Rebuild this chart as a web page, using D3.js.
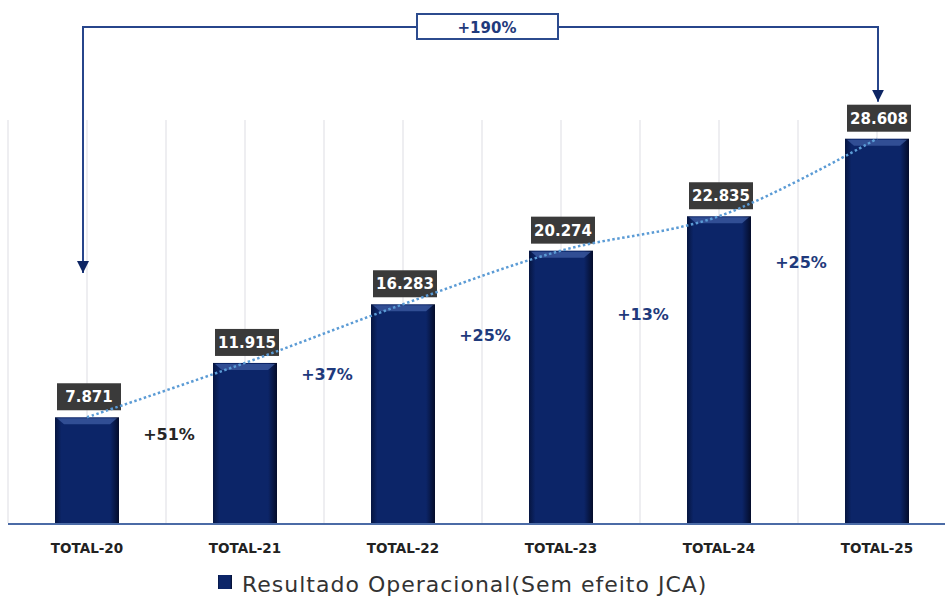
<!DOCTYPE html>
<html>
<head>
<meta charset="utf-8">
<script src="https://cdn.jsdelivr.net/npm/d3@7"></script>
<style>
  body { margin: 0; background: #fff; }
  svg { display: block; }
</style>
</head>
<body>
<div id="chart"></div>
<script>
// données
const categories = ["TOTAL-20", "TOTAL-21", "TOTAL-22", "TOTAL-23", "TOTAL-24", "TOTAL-25"];
const values = [7.871, 11.915, 16.283, 20.274, 22.835, 28.608];
const valueLabels = ["7.871", "11.915", "16.283", "20.274", "22.835", "28.608"];
const growthLabels = ["+51%", "+37%", "+25%", "+13%", "+25%"];
const totalGrowth = "+190%";
const legendLabel = "Resultado Operacional(Sem efeito JCA)";

// mise en page
const width = 945, height = 598;
const baseY = 523, topY = 120;
const barW = 64;
const growthY = [440, 380, 341, 320, 268];
const arrowColor = "#27458b";

const svg = d3.select("#chart").append("svg")
    .attr("width", width)
    .attr("height", height);

const defs = svg.append("defs");
const grad = defs.append("linearGradient")
    .attr("id", "barGrad")
    .attr("x1", "0%").attr("x2", "100%").attr("y1", "0%").attr("y2", "0%");
grad.append("stop").attr("offset", "0%").attr("stop-color", "#061540");
grad.append("stop").attr("offset", "10%").attr("stop-color", "#0c2568");
grad.append("stop").attr("offset", "86%").attr("stop-color", "#0c2568");
grad.append("stop").attr("offset", "100%").attr("stop-color", "#040c2a");

defs.append("marker")
    .attr("id", "arrowHead")
    .attr("viewBox", "0 0 10 10")
    .attr("refX", 10).attr("refY", 5)
    .attr("markerWidth", 6).attr("markerHeight", 6)
    .attr("markerUnits", "strokeWidth")
    .attr("orient", "auto")
    .append("path")
    .attr("d", "M0,0 L10,5 L0,10 z")
    .attr("fill", "#0d2563");

const x = d3.scaleBand()
    .domain(categories)
    .range([8, 956])
    .padding(0);

const y = d3.scaleLinear()
    .domain([0, 30])
    .range([baseY, topY]);

// grille verticale
const gridXs = [];
categories.forEach(c => {
    gridXs.push(x(c));
    gridXs.push(x(c) + x.bandwidth() / 2);
});
svg.append("g")
    .selectAll("line")
    .data(gridXs)
    .join("line")
    .attr("x1", d => d).attr("x2", d => d)
    .attr("y1", topY).attr("y2", baseY)
    .attr("stroke", "#e8e8ec")
    .attr("stroke-width", 1.5);

// barres
const cx = c => x(c) + x.bandwidth() / 2;
const bars = svg.append("g")
    .selectAll("g")
    .data(categories.map((c, i) => ({ c, v: values[i], label: valueLabels[i] })))
    .join("g");

bars.append("rect")
    .attr("x", d => cx(d.c) - barW / 2)
    .attr("y", d => y(d.v))
    .attr("width", barW)
    .attr("height", d => baseY - y(d.v))
    .attr("fill", "url(#barGrad)");

bars.append("path")
    .attr("d", d => {
        const x0 = cx(d.c) - barW / 2, t = y(d.v);
        return `M${x0 + 2},${t + 1} L${x0 + barW - 2},${t + 1} L${x0 + barW - 9},${t + 7} L${x0 + 9},${t + 7} Z`;
    })
    .attr("fill", "#3d5ca3")
    .attr("opacity", 0.75);

// axe
svg.append("line")
    .attr("x1", 8).attr("x2", width)
    .attr("y1", baseY + 1).attr("y2", baseY + 1)
    .attr("stroke", "#4b6ba6")
    .attr("stroke-width", 2);

svg.append("g")
    .selectAll("text")
    .data(categories)
    .join("text")
    .attr("x", d => cx(d))
    .attr("y", 553)
    .attr("text-anchor", "middle")
    .attr("font-family", "DejaVu Sans, sans-serif")
    .attr("font-weight", "bold")
    .attr("font-size", "13.5px")
    .attr("fill", "#222")
    .text(d => d);

// courbe de tendance pointillée
const trend = d3.line()
    .x(d => cx(d.c))
    .y(d => y(d.v))
    .curve(d3.curveCatmullRom.alpha(0.5));
svg.append("path")
    .datum(categories.map((c, i) => ({ c, v: values[i] })))
    .attr("d", trend)
    .attr("fill", "none")
    .attr("stroke", "#5b9bd5")
    .attr("stroke-width", 2.5)
    .attr("stroke-dasharray", "2.5,2.5");

// étiquettes de valeur
const lab = bars.append("g")
    .attr("transform", d => `translate(${cx(d.c)},${y(d.v) - 7})`);
lab.append("rect")
    .attr("x", -barW / 2 + 2)
    .attr("y", -27)
    .attr("width", barW)
    .attr("height", 27)
    .attr("fill", "#3a3a3a");
lab.append("text")
    .attr("x", 2)
    .attr("y", -8)
    .attr("text-anchor", "middle")
    .attr("font-family", "DejaVu Sans, sans-serif")
    .attr("font-weight", "bold")
    .attr("font-size", "15px")
    .attr("fill", "#ffffff")
    .text(d => d.label);

// croissance annuelle
svg.append("g")
    .selectAll("text")
    .data(growthLabels)
    .join("text")
    .attr("x", (d, i) => x(categories[i + 1]) + 3)
    .attr("y", (d, i) => growthY[i])
    .attr("text-anchor", "middle")
    .attr("font-family", "DejaVu Sans, sans-serif")
    .attr("font-weight", "bold")
    .attr("font-size", "16px")
    .attr("fill", (d, i) => i === 0 ? "#262626" : "#1f3a7c")
    .text(d => d);

// flèche +190%
const leftX = cx(categories[0]) - 4;
const rightX = cx(categories[categories.length - 1]) + 1;
const bracketY = 27;
svg.append("path")
    .attr("d", `M${leftX},${bracketY} L${leftX},273`)
    .attr("stroke", arrowColor).attr("stroke-width", 2).attr("fill", "none")
    .attr("marker-end", "url(#arrowHead)");
svg.append("path")
    .attr("d", `M${rightX},${bracketY} L${rightX},${y(values[values.length - 1]) - 37}`)
    .attr("stroke", arrowColor).attr("stroke-width", 2).attr("fill", "none")
    .attr("marker-end", "url(#arrowHead)");
svg.append("line")
    .attr("x1", leftX - 1).attr("x2", rightX + 1)
    .attr("y1", bracketY).attr("y2", bracketY)
    .attr("stroke", arrowColor).attr("stroke-width", 2);

svg.append("rect")
    .attr("x", 417).attr("y", 14)
    .attr("width", 141).attr("height", 25)
    .attr("fill", "#fff")
    .attr("stroke", "#2c4b8e")
    .attr("stroke-width", 2);
svg.append("text")
    .attr("x", 487).attr("y", 33)
    .attr("text-anchor", "middle")
    .attr("font-family", "DejaVu Sans, sans-serif")
    .attr("font-weight", "bold")
    .attr("font-size", "15px")
    .attr("fill", "#1f3a7c")
    .text(totalGrowth);

// légende
svg.append("rect")
    .attr("x", 218).attr("y", 575)
    .attr("width", 14).attr("height", 14)
    .attr("fill", "url(#barGrad)");
svg.append("text")
    .attr("x", 242).attr("y", 592)
    .attr("font-family", "DejaVu Sans, sans-serif")
    .attr("font-size", "22px")
    .attr("letter-spacing", "1px")
    .attr("fill", "#333")
    .text(legendLabel);
</script>
</body>
</html>
